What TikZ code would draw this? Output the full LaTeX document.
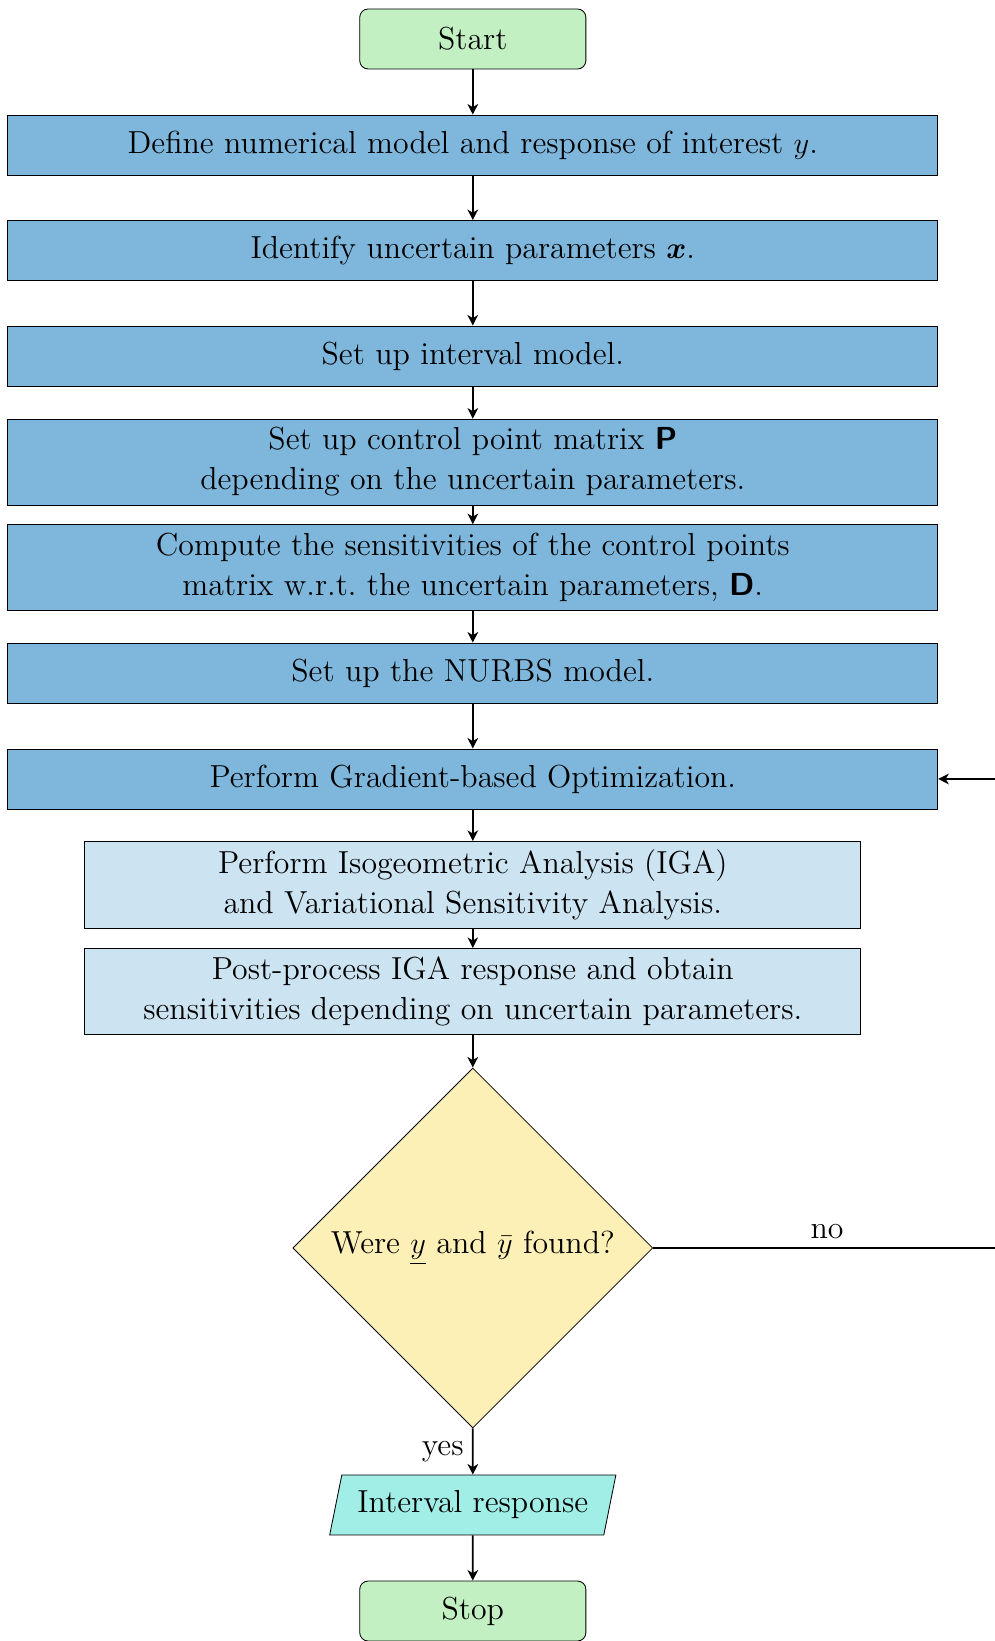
\documentclass[tikz,border=0pt,12pt]{standalone}
\usepackage{amsmath}
\usepackage{bm}
\usepackage{fontspec}
\setmainfont{lmroman12-regular.otf}[BoldFont=lmroman12-bold.otf, ItalicFont=lmroman12-italic.otf]
\usetikzlibrary{shapes.geometric, arrows.meta}

\definecolor{startgreen}{RGB}{194,240,194}
\definecolor{procblue}{RGB}{127,183,220}
\definecolor{iganblue}{RGB}{204,227,241}
\definecolor{decyellow}{RGB}{253,240,183}
\definecolor{iocyan}{RGB}{160,238,230}

\begin{document}
\begin{tikzpicture}[>={Stealth[length=5pt, width=5pt, inset=1.5pt]}, font=\fontsize{15.1}{19}\selectfont,
    startstop/.style={rectangle, rounded corners, draw, fill=startgreen, minimum width=3.77cm, minimum height=1cm},
    process/.style={rectangle, draw, fill=procblue, minimum width=15.5cm, minimum height=1cm, align=center},
    igaproc/.style={rectangle, draw, fill=iganblue, minimum width=12.93cm, minimum height=1.43cm, align=center},
    decision/.style={diamond, draw, fill=decyellow, minimum width=6cm, minimum height=6cm, inner sep=0pt},
    io/.style={trapezium, trapezium left angle=75, trapezium right angle=105, trapezium stretches body, draw, fill=iocyan, minimum width=4.77cm, minimum height=1cm},
    flow/.style={->, thick}]
    \useasboundingbox (-7.88,0.65) rectangle (8.70,-26.70);

    \node[startstop] (start) at (0,0) {Start};
    \node[process] (model) at (0,-1.767) {Define numerical model and response of interest $y$.};
    \node[process] (param) at (0,-3.525) {Identify uncertain parameters $\bm{x}$.};
    \node[process] (interval) at (0,-5.283) {Set up interval model.};
    \node[process, minimum height=1.43cm] (cpmat) at (0,-7.05) {Set up control point matrix \textsf{\textbf{P}}\\depending on the uncertain parameters.};
    \node[process, minimum height=1.43cm] (sens) at (0,-8.808) {Compute the sensitivities of the control points\\matrix w.r.t.\ the uncertain parameters, \textsf{\textbf{D}}.};
    \node[process] (nurbs) at (0,-10.567) {Set up the NURBS model.};
    \node[process] (optim) at (0,-12.333) {Perform Gradient-based Optimization.};
    \node[igaproc] (iga) at (0,-14.1) {Perform Isogeometric Analysis (IGA)\\and Variational Sensitivity Analysis.};
    \node[igaproc] (post) at (0,-15.875) {Post-process IGA response and obtain\\sensitivities depending on uncertain parameters.};
    \node[decision] (found) at (0,-20.15) {Were $\underline{y}$ and $\bar{y}$ found?};
    \node[io] (result) at (0,-24.433) {Interval response};
    \node[startstop] (stop) at (0,-26.2) {Stop};

    \coordinate (loopback) at (8.8,-20.15);

    \draw[flow] (start) -- (model);
    \draw[flow] (model) -- (param);
    \draw[flow] (param) -- (interval);
    \draw[flow] (interval) -- (cpmat);
    \draw[flow] (cpmat) -- (sens);
    \draw[flow] (sens) -- (nurbs);
    \draw[flow] (nurbs) -- (optim);
    \draw[flow] (optim) -- (iga);
    \draw[flow] (iga) -- (post);
    \draw[flow] (post) -- (found);
    \draw[flow] (found) -- (result) node[left, midway] {yes};
    \draw[flow] (result) -- (stop);
    \draw[flow] (found.east) -- (loopback) node[above, midway] {no} |- (optim.east);
\end{tikzpicture}
\end{document}
